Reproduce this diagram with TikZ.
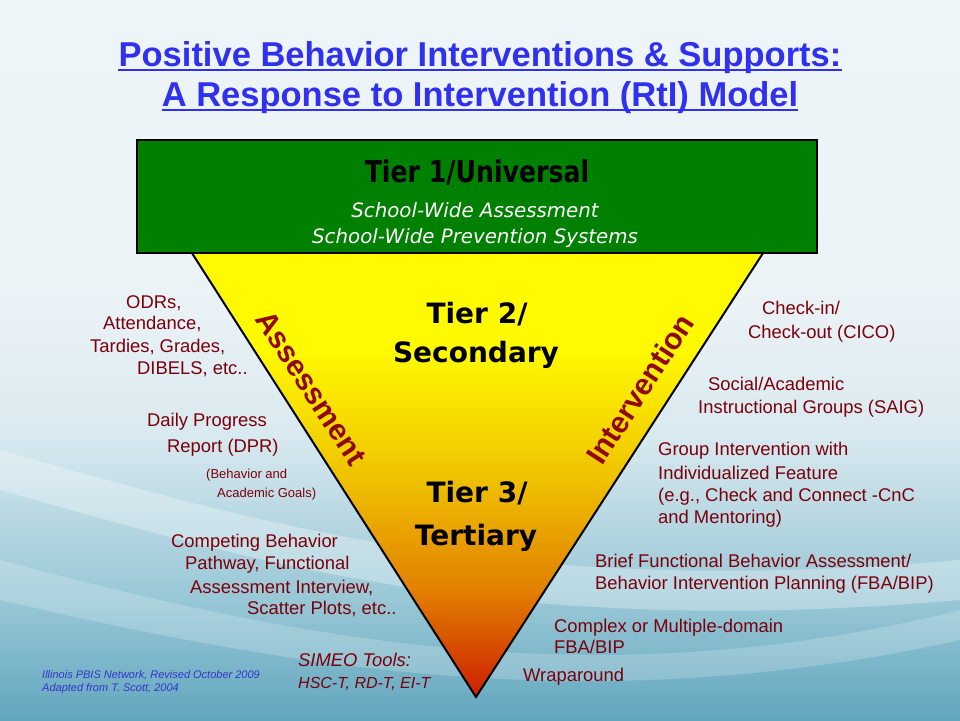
\documentclass[tikz,border=0pt]{standalone}
\usepackage{fontspec}
\setmainfont{Liberation Sans}
\newfontfamily\tierfont{DejaVu Sans}
\newfontfamily\tieronefont[FakeStretch=0.84]{DejaVu Sans}
\newfontfamily\schoolfont{DejaVu Sans}

\definecolor{titleblue}{RGB}{48,48,240}
\definecolor{creditblue}{RGB}{51,51,204}
\definecolor{listred}{RGB}{122,0,10}
\definecolor{sidered}{RGB}{145,8,8}
\definecolor{tiergreen}{RGB}{0,128,0}
\definecolor{bgtop}{RGB}{238,245,249}
\definecolor{bghigh}{RGB}{236,243,247}
\definecolor{bgmid}{RGB}{218,234,240}
\definecolor{bglow}{RGB}{150,198,213}
\definecolor{bgbot}{RGB}{98,166,190}
\definecolor{tyellow}{RGB}{255,250,0}
\definecolor{tgold}{RGB}{240,196,0}
\definecolor{torange}{RGB}{226,128,0}
\definecolor{tred}{RGB}{204,30,0}

\pgfdeclareverticalshading{slidebg}{100bp}{color(0bp)=(bgbot); color(25bp)=(bgbot); color(33bp)=(bglow); color(45bp)=(bgmid); color(55bp)=(bghigh); color(75bp)=(bgtop); color(100bp)=(bgtop)}
\pgfdeclareverticalshading{tiershade}{100bp}{color(0bp)=(tred); color(25bp)=(tred); color(37bp)=(torange); color(50bp)=(tgold); color(64bp)=(tyellow); color(75bp)=(tyellow); color(100bp)=(tyellow)}

\begin{document}
\begin{tikzpicture}[x=1pt, y=-1pt,
    titletext/.style={anchor=base, inner sep=0pt, text=titleblue, font=\fontsize{34.5}{40}\selectfont\bfseries},
    tieronetext/.style={anchor=base, inner sep=0pt, font=\tieronefont\fontsize{30}{34}\selectfont\bfseries},
    tiertext/.style={anchor=base, inner sep=0pt, font=\tierfont\fontsize{28}{32}\selectfont\bfseries},
    schooltext/.style={anchor=base, inner sep=0pt, text=white, font=\schoolfont\fontsize{19.8}{22}\selectfont\itshape},
    sidetext/.style={inner sep=0pt, text=sidered, font=\fontsize{30}{34}\selectfont\bfseries},
    listtext/.style={anchor=base west, inner sep=0pt, text=listred, font=\fontsize{18.4}{22}\selectfont},
    smalltext/.style={listtext, font=\fontsize{13}{15}\selectfont},
    tooltext/.style={listtext, font=\fontsize{18.4}{22}\selectfont\itshape},
    credittext/.style={anchor=base west, inner sep=0pt, text=creditblue, font=\fontsize{11}{12}\selectfont\itshape}
  ]

  % Background
  \shade[shading=slidebg] (0,0) rectangle (960,720);
  \useasboundingbox (0,0) rectangle (960,720);
  \fill[white, opacity=0.3] (0,450) .. controls (250,520) and (500,600) .. (960,560)
    -- (960,600) .. controls (500,640) and (250,560) .. (0,490) -- cycle;
  \fill[white, opacity=0.2] (0,560) .. controls (300,640) and (600,700) .. (960,610)
    -- (960,640) .. controls (600,720) and (300,670) .. (0,600) -- cycle;

  % Title
  \node[titletext] (title1) at (480,66) {Positive Behavior Interventions \& Supports:};
  \node[titletext] (title2) at (480,106) {A Response to Intervention (RtI) Model};
  \draw[titleblue, line width=2pt] ([yshift=-4pt]title1.base west) -- ([yshift=-4pt]title1.base east);
  \draw[titleblue, line width=2pt] ([yshift=-4pt]title2.base west) -- ([yshift=-4pt]title2.base east);

  % Triangle and tier 1 box
  \coordinate (tl) at (190,250);
  \coordinate (tr) at (765,250);
  \coordinate (apex) at (476,697);
  \shade[shading=tiershade, draw=black, line width=2pt] (tl) -- (tr) -- (apex) -- cycle;
  \node[draw=black, line width=2pt, fill=tiergreen, minimum width=680pt, minimum height=113pt, inner sep=0pt] (tier1box) at (477,196.5) {};

  % Tier labels
  \node[tieronetext] (tier1) at (477,182) {Tier 1/Universal};
  \node[schooltext] (school1) at (475,217) {School-Wide Assessment};
  \node[schooltext] (school2) at (475,243) {School-Wide Prevention Systems};
  \node[tiertext] (tier2a) at (477,323) {Tier 2/};
  \node[tiertext] (tier2b) at (476,362) {Secondary};
  \node[tiertext] (tier3a) at (477,502) {Tier 3/};
  \node[tiertext] (tier3b) at (476,545) {Tertiary};

  % Side labels
  \node[sidetext, rotate=-57] (assess) at (311,388) {Assessment};
  \node[sidetext, rotate=57] (interv) at (640,389) {Intervention};

  % Assessment list
  \foreach \x/\y/\t [count=\i] in {126/308/{ODRs,}, 103/329/{Attendance,}, 90/352/{Tardies, Grades,},
      137/374/{DIBELS, etc..}, 147/426/{Daily Progress}, 167/452/{Report (DPR)},
      171/547/{Competing Behavior}, 185/569/{Pathway, Functional},
      190/593/{Assessment Interview,}, 247/614/{Scatter Plots, etc..}}
    \node[listtext] (alist\i) at (\x,\y) {\t};
  \node[smalltext] (goals1) at (206,478) {(Behavior and};
  \node[smalltext] (goals2) at (217,497) {Academic Goals)};
  \node[tooltext] (simeo1) at (298,666) {SIMEO Tools:};
  \node[tooltext, font=\fontsize{16}{19}\selectfont\itshape] (simeo2) at (298,688) {HSC-T, RD-T, EI-T};

  % Intervention list
  \foreach \x/\y/\t [count=\i] in {762/314/{Check-in/}, 748/338/{Check-out (CICO)},
      708/390/{Social/Academic}, 698/413/{Instructional Groups (SAIG)},
      658/455/{Group Intervention with}, 658/479/{Individualized Feature},
      658/501/{(e.g., Check and Connect -CnC}, 658/523/{and Mentoring)},
      595/567/{Brief Functional Behavior Assessment/}, 595/589/{Behavior Intervention Planning (FBA/BIP)},
      554/632/{Complex or Multiple-domain}, 554/653/{FBA/BIP}, 523/681/{Wraparound}}
    \node[listtext] (ilist\i) at (\x,\y) {\t};

  % Credits
  \node[credittext] (credit1) at (42,678) {Illinois PBIS Network, Revised October 2009};
  \node[credittext] (credit2) at (42,691) {Adapted from T. Scott, 2004};

\end{tikzpicture}
\end{document}
